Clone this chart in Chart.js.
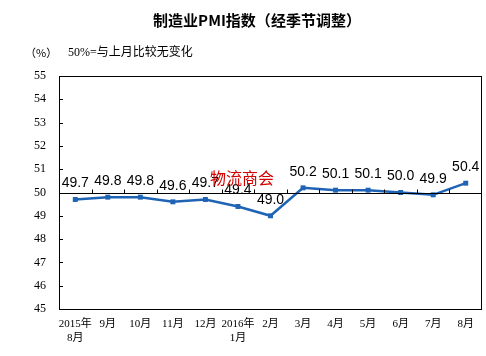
<!DOCTYPE html>
<html><head><meta charset="utf-8">
<script src="https://cdn.jsdelivr.net/npm/chart.js@4.4.1/dist/chart.umd.min.js"></script>
<style>html,body{margin:0;padding:0;background:#fff}#wrap{width:486px;height:356px;position:relative}</style>
</head><body><div id="wrap"><canvas id="c" width="486" height="356"></canvas></div>
<script>
const categories = [['2015年','8月'],'9月','10月','11月','12月',['2016年','1月'],'2月','3月','4月','5月','6月','7月','8月'];
const pmiValues = [49.7,49.8,49.8,49.6,49.7,49.4,49.0,50.2,50.1,50.1,50.0,49.9,50.4];
const yMin = 45, yMax = 55, yStep = 1;
const referenceValue = 50;
const titleText = '制造业PMI指数（经季节调整）';
const unitText = '（%）';
const noteText = '50%=与上月比较无变化';
const watermarkText = '物流商会';

const SERIF = '"Liberation Serif", "Noto Sans CJK SC", serif';
const CJK = '"Noto Sans CJK SC", sans-serif';

const decorPlugin = {
  id: 'decor',
  afterDraw(chart) {
    const ctx = chart.ctx;
    const a = chart.chartArea;
    const x = chart.scales.x, y = chart.scales.y;
    ctx.save();
    // frame
    ctx.strokeStyle = '#000';
    ctx.lineWidth = 1;
    ctx.strokeRect(Math.round(a.left) + 0.5, Math.round(a.top) + 0.5, Math.round(a.right - a.left) - 1, Math.round(a.bottom - a.top));
    // y inner ticks
    ctx.beginPath();
    for (let v = yMin; v <= yMax; v += yStep) {
      const py = Math.round(y.getPixelForValue(v)) + 0.5;
      ctx.moveTo(a.left, py); ctx.lineTo(a.left + 4, py);
    }
    // reference line
    const ry = Math.round(y.getPixelForValue(referenceValue)) + 0.5;
    ctx.moveTo(a.left, ry); ctx.lineTo(a.right, ry);
    // category boundary ticks (upward)
    for (let i = 1; i < categories.length; i++) {
      const px = Math.round((x.getPixelForValue(i - 1) + x.getPixelForValue(i)) / 2) + 0.5;
      ctx.moveTo(px, ry); ctx.lineTo(px, ry - 4);
    }
    ctx.stroke();
    // data labels
    const meta = chart.getDatasetMeta(0);
    ctx.fillStyle = '#000';
    ctx.font = '14px "Liberation Sans", Arial, sans-serif';
    ctx.textAlign = 'center';
    ctx.textBaseline = 'middle';
    meta.data.forEach((pt, i) => {
      ctx.fillText(pmiValues[i].toFixed(1), pt.x, pt.y - 16);
    });
    // watermark
    ctx.fillStyle = '#d40000';
    ctx.font = '16px ' + CJK;
    ctx.fillText(watermarkText, 242, 178);
    // title
    ctx.fillStyle = '#000';
    ctx.font = 'bold 15px ' + CJK;
    ctx.fillText(titleText, 257, 20);
    // unit & note
    ctx.font = '11px ' + CJK;
    ctx.textAlign = 'left';
    ctx.fillText(unitText, 25, 53);
    ctx.font = '12px ' + SERIF;
    ctx.fillText(noteText, 68, 53);
    ctx.restore();
  }
};

new Chart(document.getElementById('c'), {
  type: 'line',
  data: {
    labels: categories,
    datasets: [{
      data: pmiValues,
      borderColor: '#1f63b5',
      backgroundColor: '#1f63b5',
      borderWidth: 2.5,
      pointStyle: 'rect',
      pointRadius: 3.5,
      pointBorderWidth: 0,
      tension: 0,
      fill: false
    }]
  },
  options: {
    responsive: false,
    animation: false,
    devicePixelRatio: 1,
    layout: { padding: { top: 76, right: 1, bottom: 0, left: 0 } },
    plugins: { legend: { display: false }, tooltip: { enabled: false }, title: { display: false } },
    scales: {
      x: {
        type: 'category',
        offset: true,
        grid: { display: false, drawTicks: false },
        border: { display: false },
        ticks: { color: '#000', font: { family: SERIF, size: 11, lineHeight: 1.27 }, padding: 8, maxRotation: 0, autoSkip: false },
        afterFit(s) { s.height = 47; }
      },
      y: {
        min: yMin, max: yMax,
        grid: { display: false, drawTicks: false },
        border: { display: false },
        ticks: { stepSize: yStep, color: '#000', font: { family: SERIF, size: 12 }, padding: 13 },
        afterFit(s) { s.width = 59; }
      }
    }
  },
  plugins: [decorPlugin]
});
</script>
</body></html>
